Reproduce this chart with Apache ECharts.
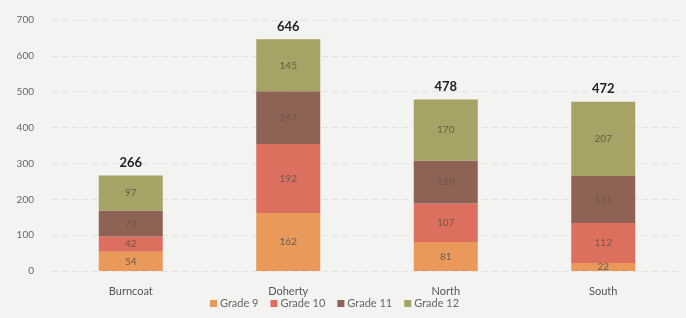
<!DOCTYPE html>
<html>
<head>
<meta charset="utf-8">
<script src="https://cdn.jsdelivr.net/npm/echarts@6/dist/echarts.min.js"></script>
<style>
  html, body { margin: 0; padding: 0; background: #f3f3f1; }
  #chart { width: 686px; height: 318px; }
</style>
</head>
<body>
<div id="chart"></div>
<script>
var schools = ['Burncoat', 'Doherty', 'North', 'South'];
var grade9 = [54, 162, 81, 22];
var grade10 = [42, 192, 107, 112];
var grade11 = [73, 147, 120, 131];
var grade12 = [97, 145, 170, 207];
var totals = [266, 646, 478, 472];
var yTicks = [0, 100, 200, 300, 400, 500, 600, 700];

var colors = ['#e99a5b', '#dc6f5e', '#8e6356', '#a7a265'];
var font = 'Lato, "Open Sans", sans-serif';

function gradeSeries(name, data, idx) {
    return {
        name: name,
        type: 'bar',
        stack: 'total',
        barWidth: 64,
        data: data,
        itemStyle: { color: colors[idx] },
        label: {
            show: true,
            position: 'inside',
            color: '#6a5a4c',
            fontSize: 10,
            fontFamily: font
        }
    };
}

var chart = echarts.init(document.getElementById('chart'));
chart.setOption({
    backgroundColor: '#f3f3f1',
    animation: false,
    textStyle: { fontFamily: font },
    grid: { left: 52, right: 4, top: 20, bottom: 47 },
    legend: {
        data: ['Grade 9', 'Grade 10', 'Grade 11', 'Grade 12'],
        bottom: 4,
        left: 205,
        itemWidth: 7,
        itemHeight: 7,
        itemGap: 12,
        icon: 'rect',
        textStyle: { color: '#666', fontSize: 11, fontFamily: font, padding: [0, 0, 0, -2] }
    },
    xAxis: {
        type: 'category',
        data: schools,
        axisLine: { show: false },
        axisTick: { show: false },
        axisLabel: { color: '#555', fontSize: 11, margin: 15 }
    },
    yAxis: {
        type: 'value',
        min: yTicks[0],
        max: yTicks[yTicks.length - 1],
        interval: 100,
        axisLine: { show: false },
        axisTick: { show: false },
        axisLabel: { color: '#666', fontSize: 10, margin: 18 },
        splitLine: { lineStyle: { color: '#e2e2df', type: [6, 4] } }
    },
    series: [
        gradeSeries('Grade 9', grade9, 0),
        gradeSeries('Grade 10', grade10, 1),
        gradeSeries('Grade 11', grade11, 2),
        gradeSeries('Grade 12', grade12, 3),
        {
            name: 'Total',
            type: 'bar',
            stack: 'total',
            barWidth: 64,
            data: totals.map(function (t) { return { value: 0, label: { formatter: String(t) } }; }),
            itemStyle: { color: 'transparent' },
            label: {
                show: true,
                position: 'top',
                distance: 6,
                color: '#222',
                fontSize: 13,
                fontWeight: 'bold',
                fontFamily: font
            },
            tooltip: { show: false }
        }
    ]
});
</script>
</body>
</html>
